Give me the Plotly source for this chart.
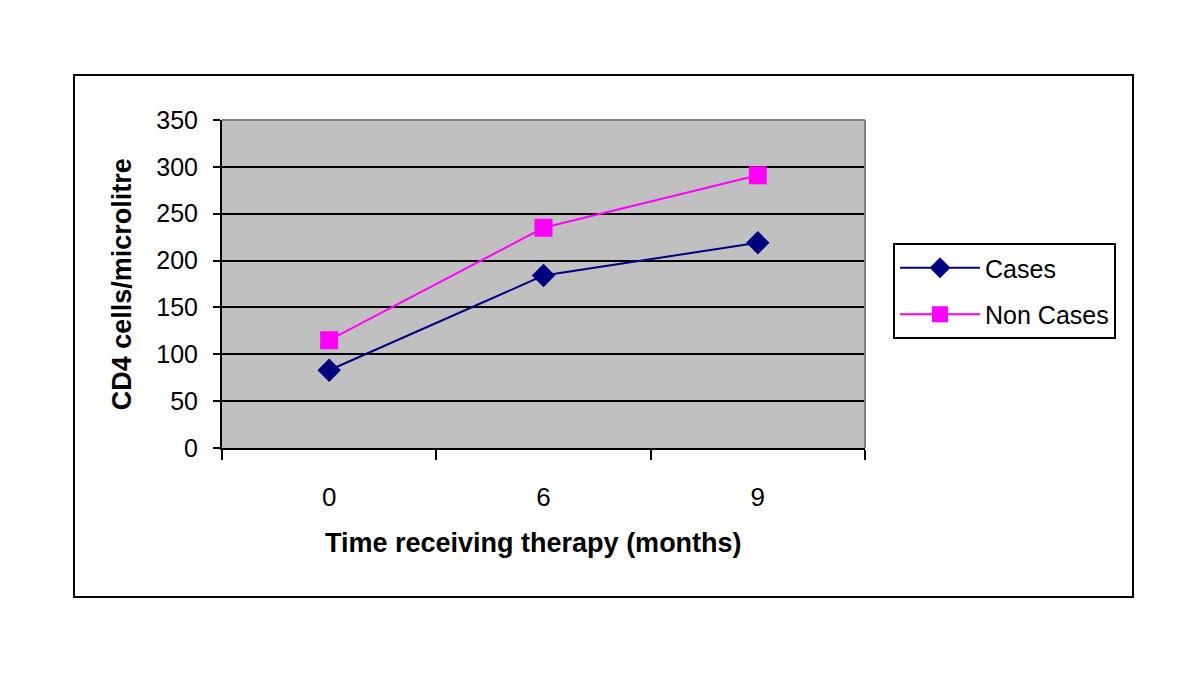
import plotly.graph_objects as go

months = ["0", "6", "9"]
cases = [83, 184, 219]
non_cases = [115, 235, 291]
y_ticks = [0, 50, 100, 150, 200, 250, 300, 350]

font_family = "Arial, Liberation Sans, sans-serif"

fig = go.Figure()
fig.add_trace(go.Scatter(
    x=months, y=cases, name="Cases", mode="lines+markers",
    legendgroup="a",
    line=dict(color="#000080", width=2),
    marker=dict(symbol="diamond", size=18, color="#000080")))
fig.add_trace(go.Scatter(
    x=months, y=non_cases, name="Non Cases", mode="lines+markers",
    legendgroup="b",
    line=dict(color="#FF00FF", width=2),
    marker=dict(symbol="square", size=18, color="#FF00FF")))

# page has an 8px body margin, so margins are shifted by 8
fig.update_layout(
    width=1200, height=690,
    margin=dict(l=214, r=343, t=112, b=250),
    paper_bgcolor="white",
    plot_bgcolor="#C0C0C0",
    font=dict(family=font_family, size=25, color="black"),
    showlegend=True,
    legend=dict(
        x=1.0436, y=0.625, xanchor="left", yanchor="top",
        bordercolor="black", borderwidth=2, bgcolor="white",
        font=dict(size=25), itemwidth=80, tracegroupgap=11),
    xaxis=dict(
        type="category", range=[-0.5, 2.5],
        showgrid=False, zeroline=False,
        showline=True, linecolor="black", linewidth=2,
        ticks="outside", tickson="boundaries", ticklen=10,
        tickcolor="black", tickwidth=2,
        ticklabelstandoff=25,
        tickfont=dict(size=26)),
    yaxis=dict(
        range=[0, 350], tickvals=y_ticks,
        showgrid=True, gridcolor="black", gridwidth=2,
        zeroline=False,
        showline=True, linecolor="black", linewidth=2,
        ticks="outside", ticklen=7, tickcolor="black", tickwidth=2,
        ticklabelstandoff=10,
        tickfont=dict(size=25)),
)

# grey plot-area border on top and right
fig.add_shape(type="line", xref="paper", yref="paper", x0=0, x1=1, y0=1, y1=1,
              line=dict(color="#808080", width=2))
fig.add_shape(type="line", xref="paper", yref="paper", x0=1, x1=1, y0=0, y1=1,
              line=dict(color="#808080", width=2))

# outer chart border
fig.add_shape(type="rect", xref="paper", yref="paper",
              x0=-0.2302, x1=1.4168, y0=-0.454, y1=1.137,
              line=dict(color="black", width=2), layer="below")

fig.add_annotation(text="<b>Time receiving therapy (months)</b>",
                   xref="paper", yref="paper", x=0.4837, y=-0.29,
                   xanchor="center", yanchor="middle", showarrow=False,
                   font=dict(size=27))
fig.add_annotation(text="<b>CD4 cells/microlitre</b>",
                   xref="paper", yref="paper", x=-0.155, y=0.5,
                   xanchor="center", yanchor="middle", showarrow=False,
                   textangle=-90, font=dict(size=27))

fig.write_html("out.html")
